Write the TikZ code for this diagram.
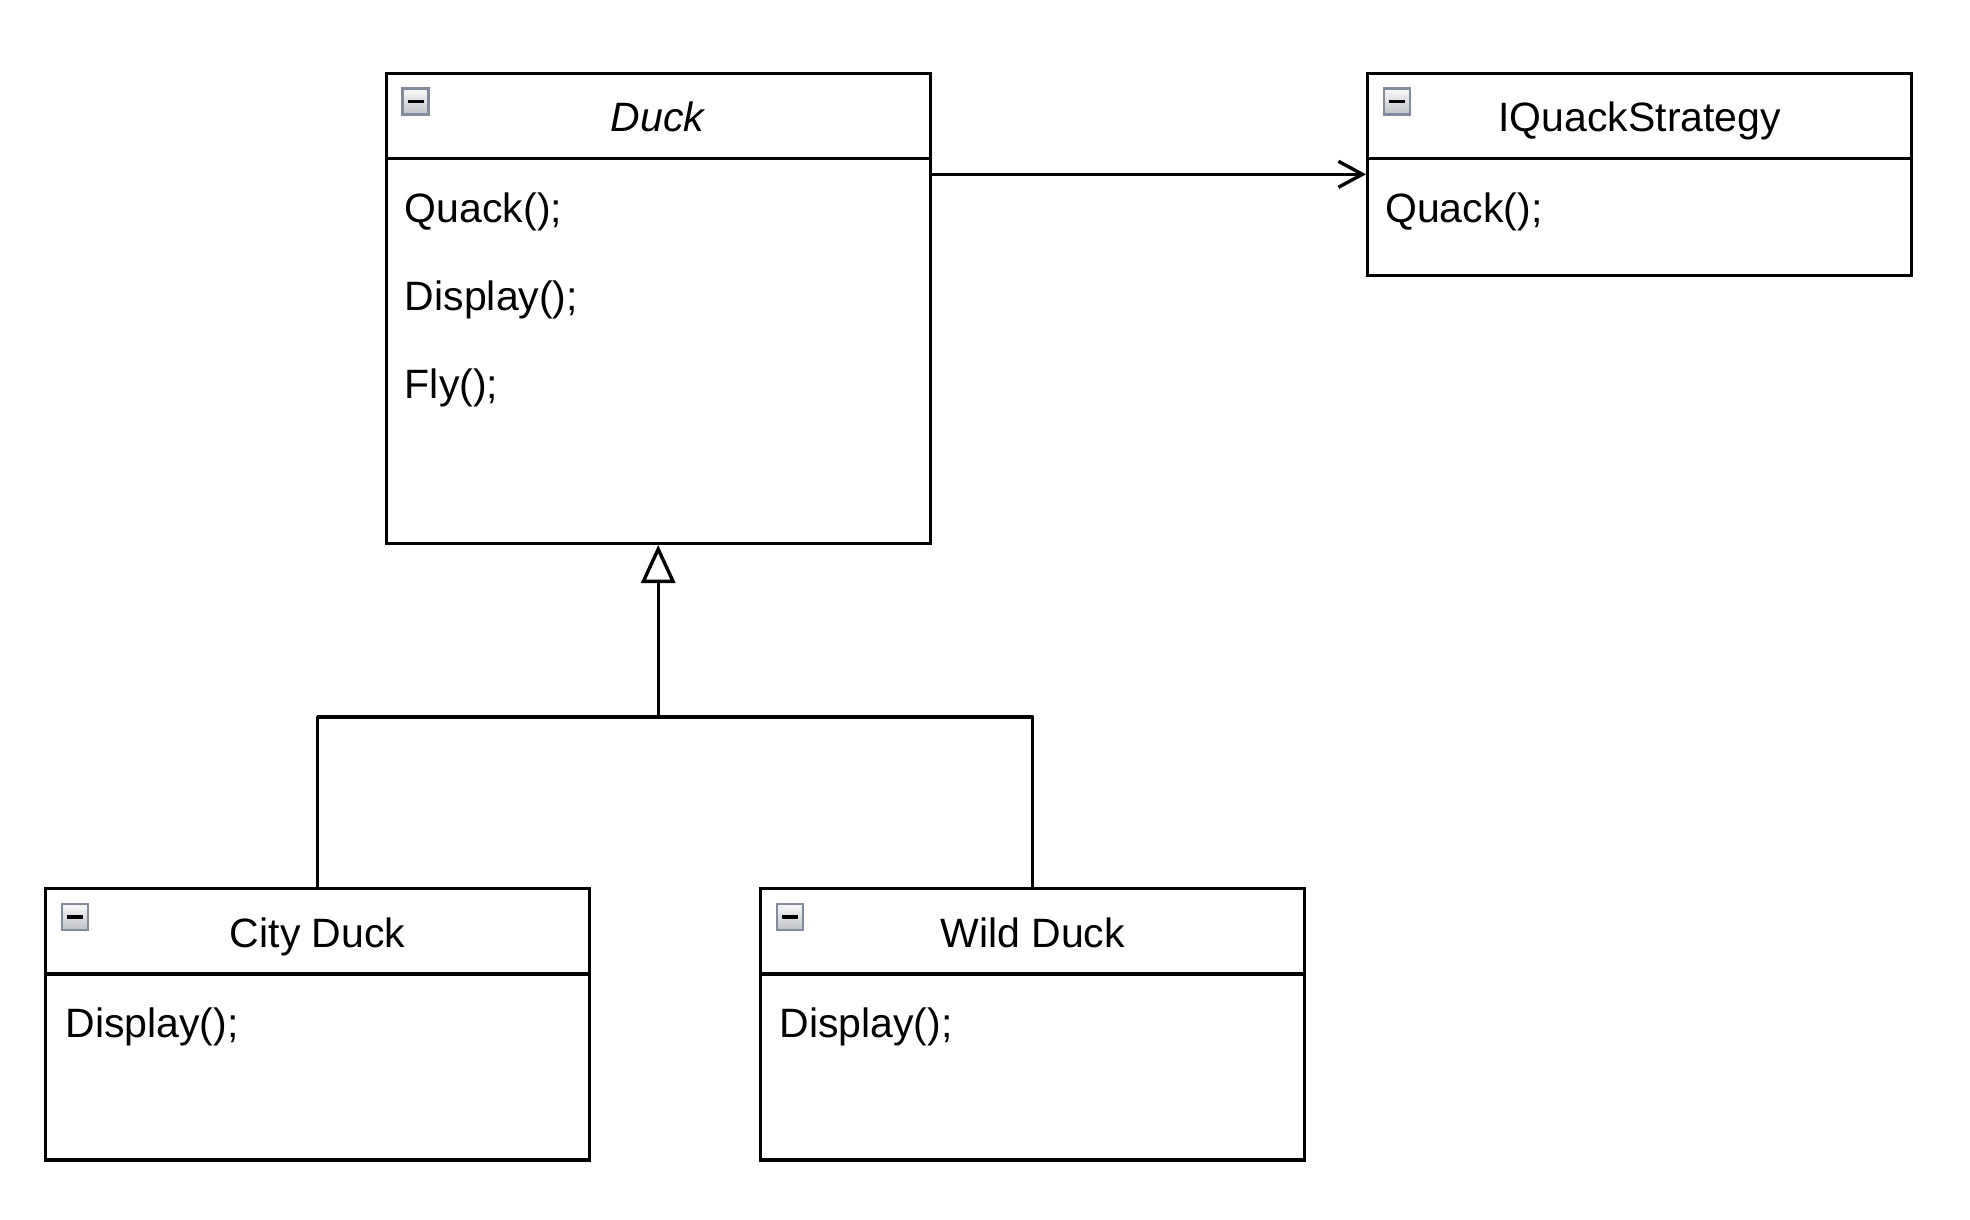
\documentclass[tikz,border=0pt]{standalone}
\usepackage{fontspec}
\setmainfont{Liberation Sans}
\usetikzlibrary{arrows.meta, positioning, calc}
\definecolor{iconedge}{RGB}{130,138,158}
\definecolor{icontop}{RGB}{248,248,248}
\definecolor{iconbottom}{RGB}{192,194,200}

\tikzset{
  classbox/.style={draw, line width=1.7pt, anchor=north west, inner sep=0pt, minimum width=272pt},
  icon/.style={draw=iconedge, line width=1.3pt, top color=icontop, bottom color=iconbottom,
    minimum size=13pt, inner sep=0pt,
    path picture={\draw[black, line width=1.8pt] ([xshift=-4pt]path picture bounding box.center)
      -- ([xshift=4pt]path picture bounding box.center);}},
  classname/.style={anchor=base, inner sep=0pt},
  method/.style={anchor=base west, inner sep=0pt},
  link/.style={line width=1.7pt, line join=round}
}

\begin{document}
\begin{tikzpicture}[x=0.5pt, y=-0.5pt, font=\fontsize{20.5}{24}\selectfont]
  \useasboundingbox (0,0) rectangle (1970,1220);

  % class boxes
  \node[classbox, minimum height=235pt] (duck) at (384.5,71.6) {};
  \node[classbox, minimum height=101pt] (strategy) at (1366,71.6) {};
  \node[classbox, minimum height=135.7pt] (city) at (44,887) {};
  \node[classbox, minimum height=135.7pt] (wild) at (759,887) {};

  % header separators
  \foreach \c in {duck, strategy, city, wild}{
    \draw[link] ([yshift=-43.5pt]\c.north west) -- ([yshift=-43.5pt]\c.north east);
    \node[icon] (\c icon) at ([xshift=15.5pt, yshift=-15pt]\c.north west) {};
  }

  % names
  \node[classname] (duckname) at ([yshift=-30pt]duck.north) {\textit{Duck}};
  \node[classname] (strategyname) at ([yshift=-30pt]strategy.north) {IQuackStrategy};
  \node[classname] (cityname) at ([yshift=-30pt]city.north) {City Duck};
  \node[classname] (wildname) at ([yshift=-30pt]wild.north) {Wild Duck};

  % operations
  \node[method] (duckquack) at ([xshift=10pt, yshift=-75.3pt]duck.north west) {Quack();};
  \node[method] (duckdisplay) at ([yshift=-44pt]duckquack.base west) {Display();};
  \node[method] (duckfly) at ([yshift=-44pt]duckdisplay.base west) {Fly();};
  \node[method] (strategyquack) at ([xshift=9.4pt, yshift=-75.3pt]strategy.north west) {Quack();};
  \node[method] (citydisplay) at ([xshift=10.5pt, yshift=-75pt]city.north west) {Display();};
  \node[method] (wilddisplay) at ([xshift=10pt, yshift=-75pt]wild.north west) {Display();};

  % association
  \draw[link, -{Straight Barb[length=12pt, width=13pt, line width=1.7pt]}]
    (duck.east |- strategy.west) -- (strategy.west);

  % generalisation
  \coordinate (fork) at ([yshift=-86pt]duck.south);
  \draw[link] (city.north) |- (fork) -| (wild.north);
  \draw[link, -{Triangle[open, length=19pt, width=17pt, line width=1.7pt]}] (fork) -- (duck.south);
\end{tikzpicture}
\end{document}
